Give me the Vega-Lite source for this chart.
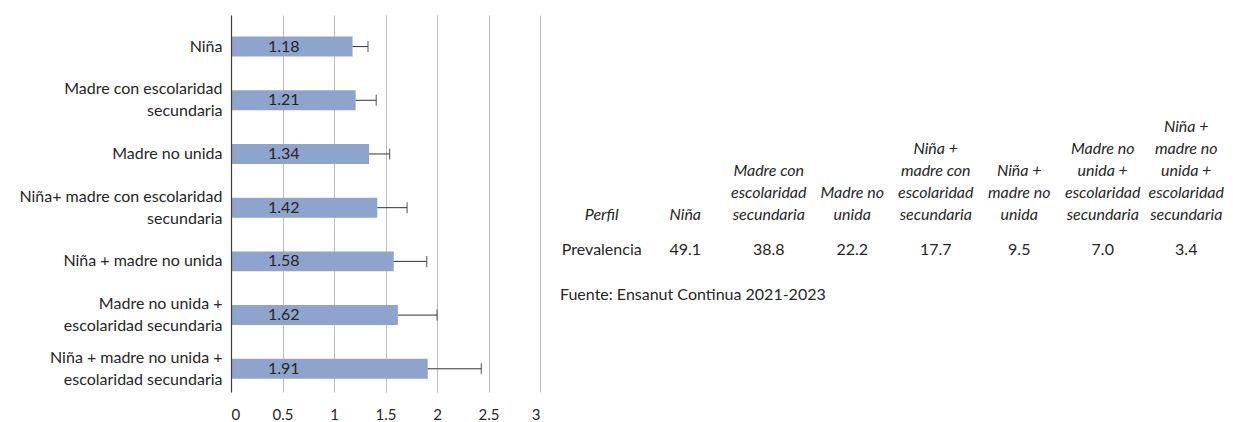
{
  "$schema": "https://vega.github.io/schema/vega-lite/v6.json",
  "background": "white",
  "padding": {"left": 5, "top": 15, "right": 5, "bottom": 5},
  "spacing": 20,
  "config": {"font": "Lato", "view": {"stroke": null}},
  "datasets": {
    "razones": [
      {"etiqueta": "Niña", "razon": 1.18, "superior": 1.33},
      {"etiqueta": "Madre con escolaridad\nsecundaria", "razon": 1.21, "superior": 1.41},
      {"etiqueta": "Madre no unida", "razon": 1.34, "superior": 1.54},
      {"etiqueta": "Niña+ madre con escolaridad\nsecundaria", "razon": 1.42, "superior": 1.71},
      {"etiqueta": "Niña + madre no unida", "razon": 1.58, "superior": 1.9},
      {"etiqueta": "Madre no unida +\nescolaridad secundaria", "razon": 1.62, "superior": 2.0},
      {"etiqueta": "Niña + madre no unida +\nescolaridad secundaria", "razon": 1.91, "superior": 2.43}
    ],
    "tabla": [
      {"col": 0, "encabezado": "Perfil", "prevalencia": "Prevalencia"},
      {"col": 1, "encabezado": "Niña", "prevalencia": "49.1"},
      {"col": 2, "encabezado": "Madre con\nescolaridad\nsecundaria", "prevalencia": "38.8"},
      {"col": 3, "encabezado": "Madre no\nunida", "prevalencia": "22.2"},
      {"col": 4, "encabezado": "Niña +\nmadre con\nescolaridad\nsecundaria", "prevalencia": "17.7"},
      {"col": 5, "encabezado": "Niña +\nmadre no\nunida", "prevalencia": "9.5"},
      {"col": 6, "encabezado": "Madre no\nunida +\nescolaridad\nsecundaria", "prevalencia": "7.0"},
      {"col": 7, "encabezado": "Niña +\nmadre no\nunida +\nescolaridad\nsecundaria", "prevalencia": "3.4"}
    ]
  },
  "hconcat": [
    {
      "width": 309,
      "height": 377,
      "data": {"name": "razones"},
      "encoding": {
        "y": {
          "field": "etiqueta",
          "type": "nominal",
          "sort": null,
          "scale": {"paddingInner": 0.628, "paddingOuter": 0.324, "align": 0.62},
          "axis": {
            "title": null,
            "ticks": false,
            "tickSize": 0,
            "domainColor": "#404040",
            "domainWidth": 1.2,
            "labelFont": "Lato",
            "labelFontSize": 16,
            "labelColor": "#262626",
            "labelPadding": 9,
            "labelLineHeight": 22,
            "labelLimit": 0,
            "labelOffset": {"condition": {"test": "indexof(datum.value, '\\n') >= 0", "value": -11}, "value": 0},
            "minExtent": 226,
            "maxExtent": 226,
            "zindex": 1,
            "labelExpr": "split(datum.label, '\\n')"
          }
        }
      },
      "layer": [
        {
          "mark": {"type": "bar", "color": "#8EA4CC"},
          "encoding": {
            "x": {
              "field": "razon",
              "type": "quantitative",
              "scale": {"domain": [0, 3], "nice": false},
              "axis": {
                "title": null,
                "values": [0, 0.5, 1, 1.5, 2, 2.5, 3],
                "format": "~g",
                "grid": true,
                "gridColor": "#BFBFBF",
                "gridWidth": 1,
                "domain": false,
                "ticks": false,
                "tickSize": 0,
                "labelPadding": 15,
                "labelFont": "Lato",
                "labelFontSize": 15,
                "labelColor": "#262626"
              }
            }
          }
        },
        {
          "mark": {"type": "rule", "color": "#333333", "strokeWidth": 1},
          "encoding": {
            "x": {"field": "razon", "type": "quantitative"},
            "x2": {"field": "superior"}
          }
        },
        {
          "mark": {"type": "tick", "color": "#333333", "thickness": 1.2, "size": 11, "orient": "vertical"},
          "encoding": {
            "x": {"field": "superior", "type": "quantitative"}
          }
        },
        {
          "mark": {"type": "text", "align": "left", "baseline": "middle", "dx": 37, "fontSize": 16, "color": "#262626", "font": "Lato"},
          "encoding": {
            "x": {"datum": 0, "type": "quantitative"},
            "text": {"field": "razon", "type": "quantitative", "format": ".2f"}
          }
        }
      ]
    },
    {
      "width": 668,
      "height": 235,
      "data": {"name": "tabla"},
      "title": {
        "text": "Fuente: Ensanut Continua 2021-2023",
        "orient": "bottom",
        "anchor": "start",
        "font": "Lato",
        "fontSize": 16,
        "fontWeight": "normal",
        "color": "#262626",
        "offset": 29
      },
      "encoding": {
        "x": {
          "field": "col",
          "type": "ordinal",
          "scale": {"paddingInner": 0, "paddingOuter": 0},
          "axis": null
        },
        "y": {
          "datum": "valor",
          "type": "nominal",
          "scale": {"type": "point", "domain": ["valor"], "align": 1},
          "axis": null
        }
      },
      "layer": [
        {
          "mark": {
            "type": "text",
            "fontStyle": "italic",
            "baseline": "bottom",
            "lineBreak": "\n",
            "lineHeight": 22,
            "fontSize": 16,
            "color": "#262626",
            "font": "Lato",
            "dy": {"expr": "-27 - (length(split(datum.encabezado, '\\n')) - 1) * 22"}
          },
          "encoding": {
            "text": {"field": "encabezado"}
          }
        },
        {
          "mark": {"type": "text", "baseline": "middle", "fontSize": 16, "color": "#262626", "font": "Lato"},
          "encoding": {
            "text": {"field": "prevalencia"}
          }
        }
      ]
    }
  ]
}
